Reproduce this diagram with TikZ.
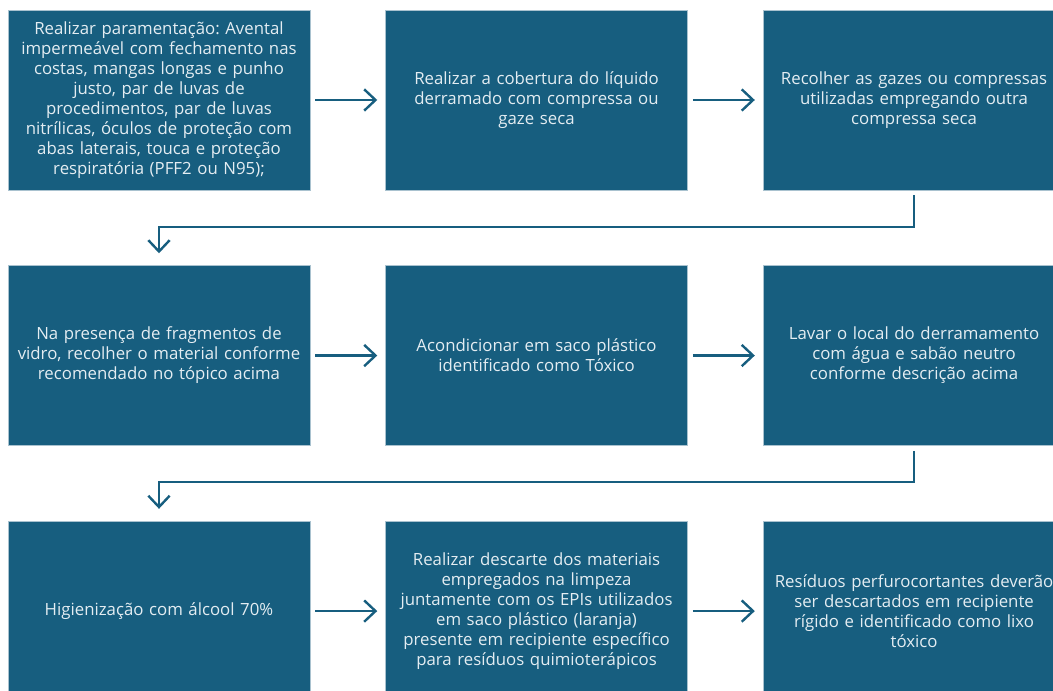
\documentclass[tikz,border=0pt]{standalone}
\usepackage{fontspec}
\setmainfont{Open Sans}[WordSpace=0.6]
\frenchspacing
\usetikzlibrary{arrows.meta,positioning,calc}
\definecolor{azulcaixa}{HTML}{175E7F}
\definecolor{textocaixa}{HTML}{E4EDF2}
\definecolor{bordacaixa}{HTML}{A9C2CF}
\tikzset{
    passo/.style={
        rectangle,
        fill=azulcaixa,
        draw=bordacaixa,
        line width=0.4pt,
        minimum width=226.5pt,
        minimum height=135pt,
        inner xsep=1pt,
        text width=224pt,
        align=center,
        text=textocaixa,
        font=\fontsize{12.6}{15}\selectfont
    },
    fluxo/.style={
        draw=azulcaixa,
        line width=1.8pt,
        -{Straight Barb[length=8.5pt,width=16pt,line width=1.8pt]}
    }
}

\begin{document}
\begin{tikzpicture}[node distance=56.25pt and 56.25pt]

    % Limites da figura (P1 fica centrado em (0,0))
    \useasboundingbox (-119.25pt,75pt) rectangle ++(789.75pt,-518.25pt);

    % Linha 1
    \node[passo] (P1) at (0,0) {Realizar paramentação: Avental\\impermeável com fechamento nas\\costas, mangas longas e punho\\justo, par de luvas de\\procedimentos, par de luvas\\nitrílicas, óculos de proteção com\\abas laterais, touca e proteção\\respiratória (PFF2 ou N95);};
    \node[passo, right=of P1] (P2) {Realizar a cobertura do líquido\\derramado com compressa ou\\gaze seca};
    \node[passo, right=of P2] (P3) {Recolher as gazes ou compressas\\utilizadas empregando outra\\compressa seca};

    % Linha 2
    \node[passo, below=of P1] (P4) {Na presença de fragmentos de\\vidro, recolher o material conforme\\recomendado no tópico acima};
    \node[passo, right=of P4] (P5) {Acondicionar em saco plástico\\identificado como Tóxico};
    \node[passo, right=of P5] (P6) {Lavar o local do derramamento\\com água e sabão neutro\\conforme descrição acima};

    % Linha 3
    \node[passo, below=of P4] (P7) {Higienização com álcool 70\%};
    \node[passo, right=of P7] (P8) {Realizar descarte dos materiais\\empregados na limpeza\\juntamente com os EPIs utilizados\\em saco plástico (laranja)\\presente em recipiente específico\\para resíduos quimioterápicos};
    \node[passo, right=of P8] (P9) {Resíduos perfurocortantes deverão\\ser descartados em recipiente\\rígido e identificado como lixo\\tóxico};

    % Setas horizontais
    \path[fluxo, shorten <=3.75pt, shorten >=6pt]
        (P1) edge (P2)
        (P2) edge (P3)
        (P4) edge (P5)
        (P5) edge (P6)
        (P7) edge (P8)
        (P8) edge (P9);

    % Setas de mudança de linha
    \draw[fluxo, line width=1.5pt, shorten <=3.75pt, shorten >=9pt]
        (P3.south) -- ++(0,-27.5pt) -| (P4.north);
    \draw[fluxo, line width=1.5pt, shorten <=3.75pt, shorten >=9pt]
        (P6.south) -- ++(0,-27.5pt) -| (P7.north);

\end{tikzpicture}
\end{document}
